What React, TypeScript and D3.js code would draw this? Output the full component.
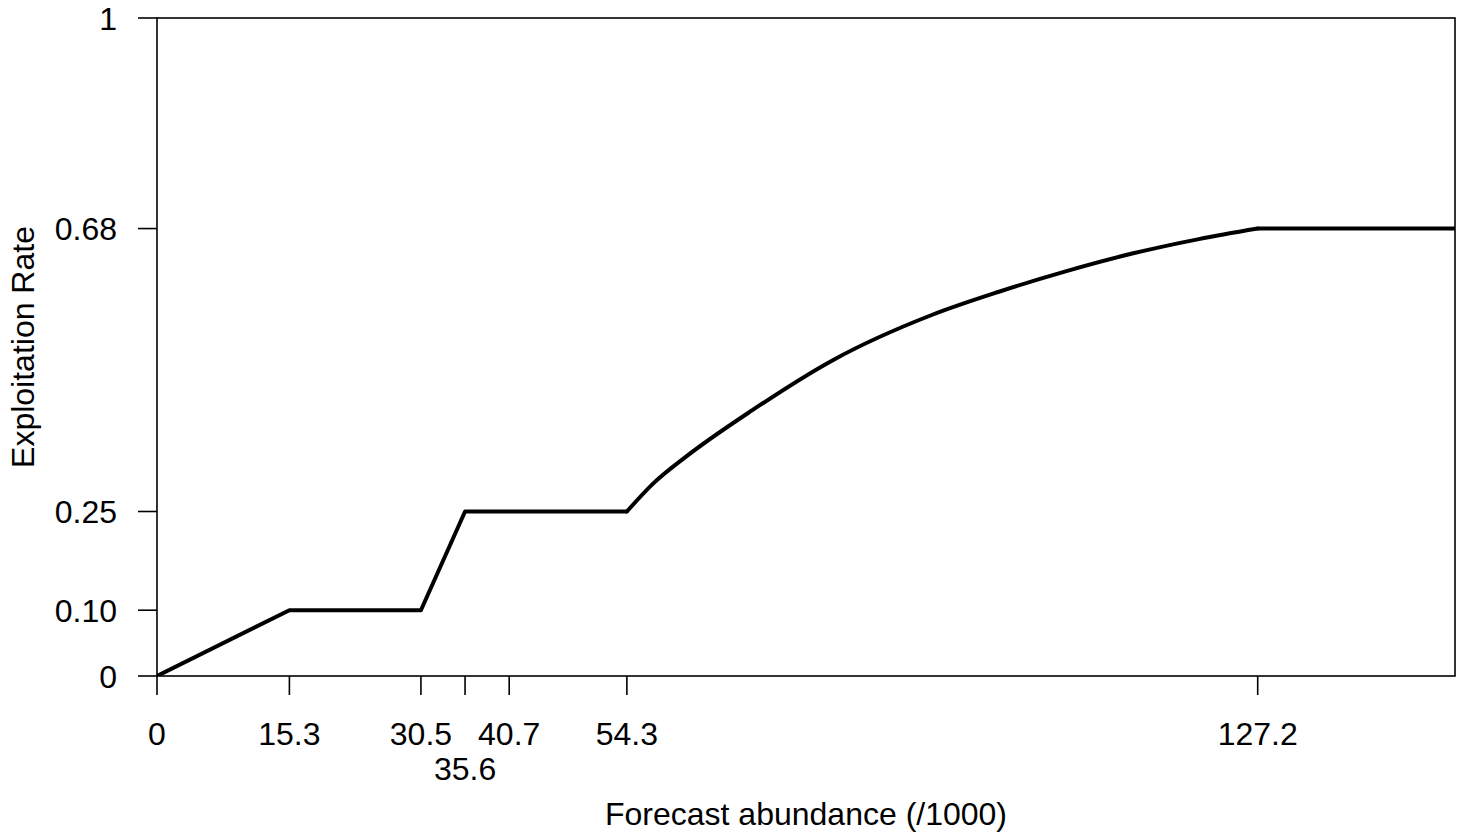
import React, { useRef, useEffect } from 'react';
import * as d3 from 'd3';

// tick positions on the x axis (forecast abundance /1000)
const xTicks = [0, 15.3, 30.5, 35.6, 40.7, 54.3, 127.2];
const xTickLabels = ['0', '15.3', '30.5', '35.6', '40.7', '54.3', '127.2'];
// labels that R dropped to a second line
const xLowered = ['35.6'];

const yTicks = [0, 0.1, 0.25, 0.68, 1];
const yTickLabels = ['0', '0.10', '0.25', '0.68', '1'];

// harvest control rule, piecewise linear part
const stepX = [0, 15.3, 30.5, 35.6, 54.3];
const stepY = [0, 0.1, 0.1, 0.25, 0.25];
// curved part
const curveX = [54.3, 57.3, 61.1, 68.8, 78.1, 89.6, 97.3, 105.0, 112.7, 120.4, 127.2];
const curveY = [0.25, 0.292, 0.333, 0.404, 0.48, 0.549, 0.584, 0.615, 0.642, 0.664, 0.68];
// cap
const capX = [127.2, 150];
const capY = [0.68, 0.68];

const W = 1468;
const H = 835;

const App = () => {
  const svgRef = useRef<SVGSVGElement>(null);

  useEffect(() => {
    const svg = d3.select(svgRef.current);
    svg.selectAll('*').remove();

    const margin = { top: 18, right: 13, bottom: 159, left: 157 };
    const x = d3.scaleLinear().domain([0, 150]).range([margin.left, W - margin.right]);
    const y = d3.scaleLinear().domain([0, 1]).range([H - margin.bottom, margin.top]);
    const font = 'Liberation Sans, Arial, Helvetica, sans-serif';
    const fs = 32;

    // clip the rule line to the plot region like R does
    svg.append('clipPath')
      .attr('id', 'plot-clip')
      .append('rect')
      .attr('x', x(0))
      .attr('y', y(1))
      .attr('width', x(150) - x(0))
      .attr('height', y(0) - y(1));

    // box
    svg.append('rect')
      .attr('x', x(0))
      .attr('y', y(1))
      .attr('width', x(150) - x(0))
      .attr('height', y(0) - y(1))
      .attr('fill', 'none')
      .attr('stroke', '#000')
      .attr('stroke-width', 1.6);

    // x axis ticks
    const xg = svg.append('g').attr('transform', `translate(0,${y(0)})`);
    xTicks.forEach((t, i) => {
      xg.append('line')
        .attr('x1', x(t)).attr('x2', x(t))
        .attr('y1', 0).attr('y2', 19)
        .attr('stroke', '#000').attr('stroke-width', 1.6);
      const low = xLowered.includes(xTickLabels[i]);
      xg.append('text')
        .attr('x', x(t))
        .attr('y', low ? 104 : 69)
        .attr('text-anchor', 'middle')
        .attr('font-family', font)
        .attr('font-size', fs)
        .text(xTickLabels[i]);
    });

    // y axis ticks
    const yg = svg.append('g').attr('transform', `translate(${x(0)},0)`);
    yTicks.forEach((t, i) => {
      yg.append('line')
        .attr('x1', -19).attr('x2', 0)
        .attr('y1', y(t)).attr('y2', y(t))
        .attr('stroke', '#000').attr('stroke-width', 1.6);
      yg.append('text')
        .attr('x', -40)
        .attr('y', y(t))
        .attr('dy', '0.36em')
        .attr('text-anchor', 'end')
        .attr('font-family', font)
        .attr('font-size', fs)
        .text(yTickLabels[i]);
    });

    // axis titles
    svg.append('text')
      .attr('x', (x(0) + x(150)) / 2)
      .attr('y', 825)
      .attr('text-anchor', 'middle')
      .attr('font-family', font)
      .attr('font-size', fs)
      .text('Forecast abundance (/1000)');

    svg.append('text')
      .attr('transform', `translate(34,${(y(0) + y(1)) / 2}) rotate(-90)`)
      .attr('text-anchor', 'middle')
      .attr('font-family', font)
      .attr('font-size', fs)
      .text('Exploitation Rate');

    // rule line
    const lin = d3.line<number>().x(i => x(stepX[i])).y(i => y(stepY[i]));
    const smooth = d3.line<number>()
      .x(i => x(curveX[i]))
      .y(i => y(curveY[i]))
      .curve(d3.curveMonotoneX);
    const cap = d3.line<number>().x(i => x(capX[i])).y(i => y(capY[i]));

    const pathD = [
      lin(d3.range(stepX.length)),
      smooth(d3.range(curveX.length)),
      cap(d3.range(capX.length)),
    ];
    svg.append('g')
      .attr('clip-path', 'url(#plot-clip)')
      .selectAll('path.rule')
      .data(pathD)
      .enter()
      .append('path')
      .attr('class', 'rule')
      .attr('d', d => d)
      .attr('fill', 'none')
      .attr('stroke', '#000')
      .attr('stroke-width', 4)
      .attr('stroke-linejoin', 'round')
      .attr('stroke-linecap', 'round');
  }, []);

  return (
    <svg
      ref={svgRef}
      width={W}
      height={H}
      style={{ position: 'absolute', left: 0, top: 0, background: '#fff' }}
    />
  );
};

export default App;
